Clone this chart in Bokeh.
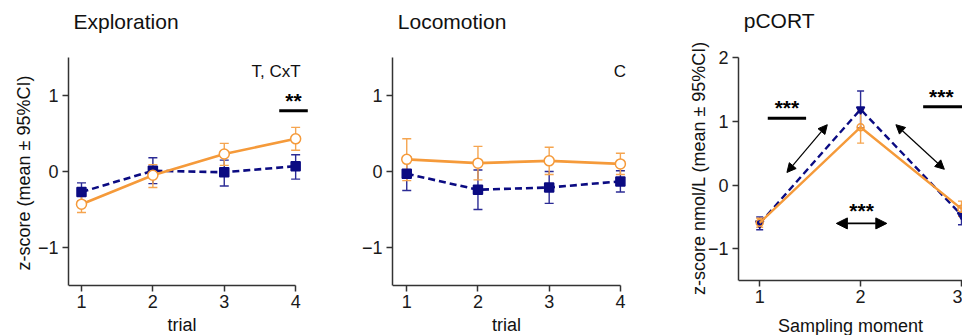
from bokeh.plotting import figure
from bokeh.layouts import row
from bokeh.models import ColumnDataSource, Whisker, TeeHead, Arrow, NormalHead, FixedTicker
from bokeh.core.properties import value
from bokeh.embed import file_html
from bokeh.resources import INLINE

FONT = "Liberation Sans"
NAVY = "#0b0b82"
NAVY_ERR = "#2b2b95"
ORANGE = "#f59a3a"
ORANGE_ERR = "#f5a550"
AXIS = "#333333"

# ---------------- data ----------------
trials = [1, 2, 3, 4]

expl_ctrl = [-0.27, 0.01, -0.01, 0.07]
expl_ctrl_lo = [-0.39, -0.16, -0.19, -0.10]
expl_ctrl_hi = [-0.15, 0.18, 0.15, 0.22]
expl_exp = [-0.43, -0.05, 0.23, 0.43]
expl_exp_lo = [-0.54, -0.21, 0.08, 0.28]
expl_exp_hi = [-0.32, 0.09, 0.37, 0.58]

loco_ctrl = [-0.03, -0.24, -0.21, -0.13]
loco_ctrl_lo = [-0.25, -0.50, -0.42, -0.27]
loco_ctrl_hi = [0.19, 0.02, 0.00, 0.01]
loco_exp = [0.16, 0.11, 0.14, 0.10]
loco_exp_lo = [-0.12, -0.11, -0.04, -0.04]
loco_exp_hi = [0.43, 0.33, 0.32, 0.24]

moments = [1, 2, 3]
cort_ctrl = [-0.60, 1.19, -0.47]
cort_ctrl_lo = [-0.70, 0.90, -0.62]
cort_ctrl_hi = [-0.50, 1.48, -0.32]
cort_exp = [-0.59, 0.91, -0.37]
cort_exp_lo = [-0.66, 0.66, -0.49]
cort_exp_hi = [-0.52, 1.16, -0.25]

# titles / annotations
titles = ["Exploration", "Locomotion", "pCORT"]
title_pos = [(0.888, 1.98), (0.874, 1.98), (0.842, 2.58)]
expl_effect = "T, CxT"
loco_effect = "C"
expl_sig = {"text": "**", "x": 3.97, "y": 0.93, "x0": 3.77, "x1": 4.17, "ybar": 0.80}
cort_sigs = [
    {"text": "***", "x": 1.27, "y": 1.22, "x0": 1.08, "x1": 1.46, "ybar": 1.05},
    {"text": "***", "x": 2.80, "y": 1.40, "x0": 2.62, "x1": 3.05, "ybar": 1.23},
]
cort_mid_text = {"text": "***", "x": 2.01, "y": -0.40}
cort_arrows = [
    (1.27, 0.20, 1.67, 0.95, 1.2, 9),
    (2.35, 0.95, 2.83, 0.25, 1.2, 9),
    (1.76, -0.60, 2.26, -0.60, 1.8, 11),
]


def make_fig(idx, width, xr, yr, ybounds, xfix, bl, br, xlabel, ylabel, yticks, xticks, xbounds,
             ylab_standoff, xlab_standoff, xtick_standoff):
    p = figure(width=width, height=335, x_range=xr, y_range=yr,
               output_backend="svg", toolbar_location=None,
               min_border_left=bl, min_border_right=br, min_border_top=0, min_border_bottom=0)
    p.outline_line_color = None
    p.grid.visible = False
    p.background_fill_color = "white"
    p.border_fill_color = "white"
    for ax in (p.xaxis[0], p.yaxis[0]):
        ax.axis_line_color = AXIS
        ax.axis_line_width = 1.5
        ax.major_tick_line_color = AXIS
        ax.major_tick_line_width = 1.5
        ax.major_tick_out = 6
        ax.major_tick_in = 0
        ax.minor_tick_line_color = None
        ax.major_label_text_font = FONT
        ax.major_label_text_font_size = "18px"
        ax.major_label_text_color = "#1a1a1a"
        ax.axis_label_text_font = FONT
        ax.axis_label_text_font_size = "18px"
        ax.axis_label_text_font_style = "normal"
        ax.axis_label_text_color = "#111111"
    p.xaxis.ticker = FixedTicker(ticks=xticks)
    p.yaxis.ticker = FixedTicker(ticks=yticks)
    p.xaxis.fixed_location = xfix
    p.xaxis.bounds = xbounds
    p.yaxis.bounds = ybounds
    p.xaxis.axis_label = xlabel
    p.yaxis.axis_label = ylabel
    p.xaxis.major_label_standoff = xtick_standoff
    p.xaxis.axis_label_standoff = xlab_standoff
    p.yaxis.major_label_standoff = 4
    p.yaxis.axis_label_standoff = ylab_standoff
    tx, ty = title_pos[idx]
    p.text(x=[tx], y=[ty], text=[titles[idx]], text_font=value(FONT), text_font_size="21px",
           text_color="#111111", text_baseline="alphabetic", text_align="left")
    return p


def add_series(p, x, y, lo, hi, color, err_color, dash, marker, msize, fill, cap=9, lw=2.6):
    src = ColumnDataSource(dict(x=x, y=y, lo=lo, hi=hi))
    p.line("x", "y", source=src, line_color=color, line_width=lw, line_dash=dash)
    w = Whisker(source=src, base="x", upper="hi", lower="lo", line_color=err_color, line_width=1.4,
                upper_head=TeeHead(size=cap, line_color=err_color, line_width=1.4),
                lower_head=TeeHead(size=cap, line_color=err_color, line_width=1.4))
    p.add_layout(w)
    p.scatter("x", "y", source=src, marker=marker, size=msize, line_color=color, line_width=1.5,
              fill_color=fill)


def sig(p, s, size="21px"):
    p.segment(x0=[s["x0"]], y0=[s["ybar"]], x1=[s["x1"]], y1=[s["ybar"]], line_color="black", line_width=3)
    p.text(x=[s["x"]], y=[s["y"]], text=[s["text"]], text_font=value(FONT), text_font_style="bold",
           text_font_size=size, text_align="center", text_baseline="middle", text_color="black")


# ---- Exploration ----
p1 = make_fig(0, 320, (0.818, 4.18), (-2.158, 2.25), (-1.5, 1.5), -1.5, 68, 12, "trial",
              "z-score  (mean \u00b1  95%CI)", [-1, 0, 1], trials, (0.818, 4), 1, 3, 4)
add_series(p1, trials, expl_ctrl, expl_ctrl_lo, expl_ctrl_hi, NAVY, NAVY_ERR, "7 4", "square", 9, NAVY)
add_series(p1, trials, expl_exp, expl_exp_lo, expl_exp_hi, ORANGE, ORANGE_ERR, "solid", "circle", 10, "white")
p1.text(x=[4.07], y=[1.32], text=[expl_effect], text_font=value(FONT), text_font_size="17px",
        text_align="right", text_baseline="middle", text_color="#111111")
sig(p1, expl_sig)

# ---- Locomotion ----
p2 = make_fig(1, 320, (0.80, 4.17), (-2.158, 2.25), (-1.5, 1.5), -1.5, 72, 8, "trial",
              "", [-1, 0, 1], trials, (0.80, 4), 0, 3, 4)
add_series(p2, trials, loco_ctrl, loco_ctrl_lo, loco_ctrl_hi, NAVY, NAVY_ERR, "7 4", "square", 9, NAVY)
add_series(p2, trials, loco_exp, loco_exp_lo, loco_exp_hi, ORANGE, ORANGE_ERR, "solid", "circle", 10, "white")
p2.text(x=[4.08], y=[1.32], text=[loco_effect], text_font=value(FONT), text_font_size="17px",
        text_align="right", text_baseline="middle", text_color="#111111")

# ---- pCORT ----
p3 = make_fig(2, 322, (0.79, 3.01), (-2.36, 2.90), (-1.5, 2.0), -1.5, 98, 0, "Sampling moment",
              "z-score nmol/L (mean \u00b1 95%CI)", [-1, 0, 1, 2], moments, (0.79, 3.01), -4, 10, 3)
add_series(p3, moments, cort_ctrl, cort_ctrl_lo, cort_ctrl_hi, NAVY, NAVY_ERR, "7 4", "inverted_triangle", 8,
           NAVY, cap=7, lw=2.4)
add_series(p3, moments, cort_exp, cort_exp_lo, cort_exp_hi, ORANGE, ORANGE_ERR, "solid", "circle", 7, None,
           cap=7, lw=2.4)
for s in cort_sigs:
    sig(p3, s)
p3.text(x=[cort_mid_text["x"]], y=[cort_mid_text["y"]], text=[cort_mid_text["text"]], text_font=value(FONT),
        text_font_style="bold", text_font_size="21px", text_align="center", text_baseline="middle",
        text_color="black")
for (xs, ys, xe, ye, lw, hs) in cort_arrows:
    p3.add_layout(Arrow(x_start=xs, y_start=ys, x_end=xe, y_end=ye, line_width=lw, line_color="black",
                        start=NormalHead(size=hs, fill_color="black", line_color="black"),
                        end=NormalHead(size=hs, fill_color="black", line_color="black")))

layout = row(p1, p2, p3)
open("out.html", "w").write(file_html(layout, INLINE))
